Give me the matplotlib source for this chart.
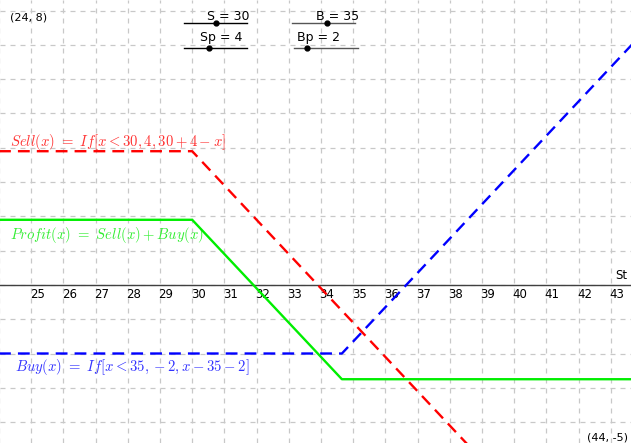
import numpy as np
import matplotlib.pyplot as plt

# values
ticks_x = [25, 26, 27, 28, 29, 30, 31, 32, 33, 34, 35, 36, 37, 38, 39, 40, 41, 42, 43]

sell_x = [24, 30, 44]
sell_y = [3.9, 3.9, -10.1]

buy_x = [24, 34.65, 44]
buy_y = [-2, -2, 7.35]

profit_x = [24, 30, 34.65, 44]
profit_y = [1.9, 1.9, -2.75, -2.75]

slider_labels = ["S = 30", "Sp = 4", "B = 35", "Bp = 2"]

W, H = 631, 443
fig = plt.figure(figsize=(W / 100, H / 100), dpi=100)
ax = fig.add_axes([0, 0, 1, 1])
ax.set_xlim(24.03, 43.63)
ax.set_ylim(-4.61, 8.31)
ax.axis("off")

# grid
for gx in range(24, 45):
    ax.axvline(gx, color="#c8c8c8", lw=0.9, ls=(0, (4, 4)), zorder=0)
for gy in range(-5, 9):
    ax.axhline(gy, color="#c8c8c8", lw=0.9, ls=(0, (4, 4)), zorder=0)

# x axis
ax.axhline(0, color="#404040", lw=1.0, zorder=1)
for t in ticks_x:
    ax.annotate(str(t), (t, 0), xytext=(6, -10), textcoords="offset pixels",
                ha="center", va="center", fontsize=8.5, color="black")
ax.annotate("St", (43.63, 0), xytext=(-10, 9), textcoords="offset pixels",
            ha="center", va="center", fontsize=8.5)

# curves
ax.plot(sell_x, sell_y, color="#ff0000", lw=1.7, ls=(0, (5, 3)), zorder=3)
ax.plot(buy_x, buy_y, color="#0000ff", lw=1.7, ls=(0, (5, 3)), zorder=3)
ax.plot(profit_x, profit_y, color="#00ee00", lw=1.7, zorder=4)

plt.rcParams["mathtext.fontset"] = "cm"
ax.text(0.016, 0.679, r"$Sell(x)\ =\ If[x<30,4,30+4-x]$", transform=ax.transAxes,
        color="#ff3333", fontsize=10.6, va="center", ha="left")
ax.text(0.016, 0.469, r"$Profit(x)\ =\ Sell(x)+Buy(x)$", transform=ax.transAxes,
        color="#33ee33", fontsize=10.6, va="center", ha="left")
ax.text(0.024, 0.172, r"$Buy(x)\ =\ If[x<35,-2,x-35-2]$", transform=ax.transAxes,
        color="#3333ff", fontsize=10.6, va="center", ha="left")

# corner labels
fig.text(10 / W, 1 - 17 / H, "(24, 8)", fontsize=8, va="center", ha="left")
fig.text(628 / W, 1 - 437 / H, "(44, -5)", fontsize=8, va="center", ha="right")

# sliders (pixel layout)
sliders = [
    (184, 247, 23, 216, 228, 16, "black"),
    (184, 247, 48, 209, 221, 37, "black"),
    (292, 355, 23, 327, 338, 16, "#555555"),
    (294, 358, 48, 307, 319, 37, "#555555"),
]
for (x0, x1, y, px, lx, ly, col), lab in zip(sliders, slider_labels):
    fig.add_artist(plt.Line2D([x0 / W, x1 / W], [1 - y / H, 1 - y / H], color=col, lw=1.0))
    fig.add_artist(plt.Line2D([px / W], [1 - y / H], marker="o", ms=3.5, color="black"))
    fig.text(lx / W, 1 - ly / H, lab, fontsize=9, ha="center", va="center")

fig.savefig("out.png", dpi=100)
